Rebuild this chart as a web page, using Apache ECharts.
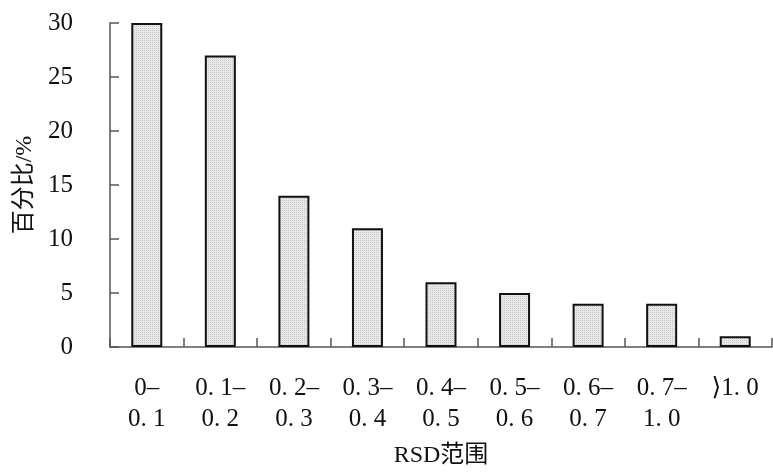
<!DOCTYPE html>
<html>
<head>
<meta charset="utf-8">
<script src="https://cdn.jsdelivr.net/npm/echarts@6/dist/echarts.min.js"></script>
<style>
  html, body { margin: 0; padding: 0; background: #fff; }
  #chart { width: 773px; height: 472px; }
</style>
</head>
<body>
<div id="chart"></div>
<script>
// RSD ranges and share of samples (%) in each range
const categories = ['0–\n0. 1', '0. 1–\n0. 2', '0. 2–\n0. 3', '0. 3–\n0. 4', '0. 4–\n0. 5', '0. 5–\n0. 6', '0. 6–\n0. 7', '0. 7–\n1. 0', '⟩1. 0\n '];
const percentages = [30, 27, 14, 11, 6, 5, 4, 4, 1];
const yTicks = { min: 0, max: 30, interval: 5 };

const FONT = '"Liberation Serif", "DejaVu Serif", "Noto Sans CJK SC", serif';

// dotted light-grey fill for the bars
const tile = document.createElement('canvas');
tile.width = 2; tile.height = 2;
const tctx = tile.getContext('2d');
tctx.fillStyle = '#e8e8e8'; tctx.fillRect(0, 0, 2, 2);
tctx.fillStyle = '#c8c8c8'; tctx.fillRect(0, 0, 1, 1);

const chart = echarts.init(document.getElementById('chart'), null, { renderer: 'canvas' });
chart.setOption({
  animation: false,
  backgroundColor: '#fff',
  grid: { left: 110, right: 1, top: 23, bottom: 125, containLabel: false, outerBoundsMode: 'none' },
  xAxis: {
    type: 'category',
    data: categories,
    name: 'RSD范围',
    nameLocation: 'middle',
    nameGap: 97,
    nameTextStyle: { fontFamily: FONT, fontSize: 24, color: '#111' },
    axisLine: { lineStyle: { color: '#555', width: 1.5 } },
    axisTick: { show: true, inside: true, length: 9, lineStyle: { color: '#555', width: 1.5 } },
    axisLabel: { fontFamily: FONT, fontSize: 25, color: '#111', lineHeight: 31, margin: 26, interval: 0 }
  },
  yAxis: {
    type: 'value',
    min: yTicks.min, max: yTicks.max, interval: yTicks.interval,
    name: '百分比/%',
    nameLocation: 'middle',
    nameGap: 71,
    nameTextStyle: { fontFamily: FONT, fontSize: 24, color: '#111' },
    axisLine: { show: true, lineStyle: { color: '#555', width: 1.5 } },
    axisTick: { show: true, inside: true, length: 9, lineStyle: { color: '#555', width: 1.5 } },
    axisLabel: { fontFamily: FONT, fontSize: 25, color: '#111', margin: 37 },
    splitLine: { show: false }
  },
  series: [{
    type: 'bar',
    data: percentages,
    barWidth: 31,
    itemStyle: {
      color: { image: tile, repeat: 'repeat' },
      borderColor: '#111',
      borderWidth: 2
    }
  }]
});
</script>
</body>
</html>
